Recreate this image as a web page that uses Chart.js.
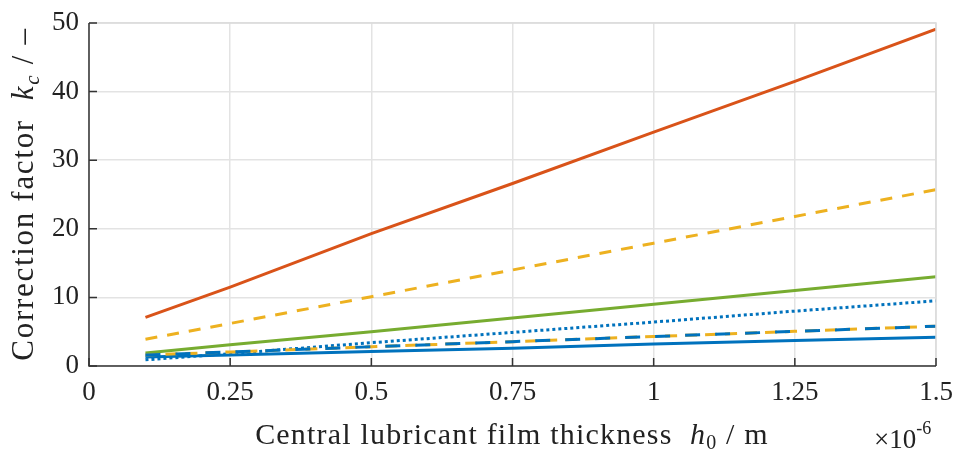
<!DOCTYPE html>
<html><head><meta charset="utf-8">
<script src="https://cdn.jsdelivr.net/npm/chart.js@4/dist/chart.umd.min.js"></script>
<style>html,body{margin:0;padding:0;background:#fff}#wrap{width:955px;height:453px}</style>
</head><body><div id="wrap"><canvas id="c" width="955" height="453"></canvas></div>
<script>
const xValues = [0.1, 0.25, 0.5, 0.75, 1.0, 1.25, 1.5];
const redSolid    = [7.1, 11.5, 19.3, 26.6, 34.1, 41.5, 49.1];
const yellowDash1 = [3.9, 6.2, 10.1, 14.0, 17.9, 21.8, 25.7];
const greenSolid  = [1.9, 3.1, 5.0, 7.0, 9.0, 11.0, 13.0];
const blueDotted  = [0.9, 1.8, 3.4, 4.9, 6.4, 8.0, 9.5];
const yellowDash2 = [1.6, 2.05, 2.8, 3.55, 4.3, 5.05, 5.8];
const blueDashed  = [1.6, 2.05, 2.8, 3.55, 4.3, 5.05, 5.8];
const blueSolid   = [1.3, 1.6, 2.1, 2.6, 3.2, 3.7, 4.2];
const xTicks = [0, 0.25, 0.5, 0.75, 1, 1.25, 1.5];
const yTicks = [0, 10, 20, 30, 40, 50];

const BLUE='#0072BD', RED='#D95319', YEL='#EDB120', GRN='#77AC30';
const pts = a => a.map((v,i)=>({x:xValues[i], y:v}));
const FONT = '"Liberation Serif", "DejaVu Serif", serif';

function ds(data,color,dash,order){
  return {data:pts(data),borderColor:color,borderWidth:3,borderDash:dash,pointRadius:0,fill:false,tension:0,order:order};
}

function drawRich(ctx, parts, x, y, ls){
  ctx.letterSpacing = ls+'px';
  let widths = parts.map(p=>{ctx.font=p[1]; return ctx.measureText(p[0]).width;});
  let total = widths.reduce((a,b)=>a+b,0);
  let cx = x - total/2;
  parts.forEach((p,i)=>{ctx.font=p[1]; ctx.fillText(p[0],cx,y+(p[2]||0)); cx+=widths[i];});
  ctx.letterSpacing='0px';
}

const frame = {
  id:'frame',
  afterDraw(chart){
    const ctx=chart.ctx, a=chart.chartArea, xs=chart.scales.x, ys=chart.scales.y;
    ctx.save();
    ctx.strokeStyle='#dcdcdc'; ctx.lineWidth=1.5;
    ctx.beginPath(); ctx.moveTo(a.left,a.top); ctx.lineTo(a.right,a.top); ctx.lineTo(a.right,a.bottom); ctx.stroke();
    ctx.strokeStyle='#333'; ctx.lineWidth=1.5;
    ctx.beginPath(); ctx.moveTo(a.left,a.top); ctx.lineTo(a.left,a.bottom); ctx.lineTo(a.right,a.bottom); ctx.stroke();
    ctx.beginPath();
    xTicks.forEach(v=>{const p=xs.getPixelForValue(v); ctx.moveTo(p,a.bottom); ctx.lineTo(p,a.bottom-8);});
    yTicks.forEach(v=>{const p=ys.getPixelForValue(v); ctx.moveTo(a.left,p); ctx.lineTo(a.left+8,p);});
    ctx.stroke();
    ctx.fillStyle='#222'; ctx.textBaseline='alphabetic'; ctx.textAlign='left';
    drawRich(ctx,[
      ['Central lubricant film thickness  ','30px '+FONT,0],
      ['h','italic 30px '+FONT,0],
      ['0','20px '+FONT,5],
      [' / m','30px '+FONT,0]
    ],512,444,1.2);
    ctx.font='27px '+FONT; ctx.fillText('×10',874,448);
    const wx=ctx.measureText('×10').width;
    ctx.font='18px '+FONT; ctx.fillText('-6',874+wx,434);
    ctx.save();
    ctx.translate(33,194); ctx.rotate(-Math.PI/2);
    drawRich(ctx,[
      ['Correction factor  ','31px '+FONT,0],
      ['k','italic 31px '+FONT,0],
      ['c','italic 21px '+FONT,6],
      [' / –','31px '+FONT,0]
    ],0,0,1.7);
    ctx.restore();
    ctx.restore();
  }
};

new Chart(document.getElementById('c'),{
  type:'line',
  data:{datasets:[
    ds(blueDashed,BLUE,[15,15],1),
    ds(yellowDash2,YEL,[12,8],2),
    ds(blueDotted,BLUE,[3,3],3),
    ds(greenSolid,GRN,[],4),
    ds(yellowDash1,YEL,[12,10],5),
    ds(redSolid,RED,[],6),
    ds(blueSolid,BLUE,[],7)
  ]},
  options:{
    responsive:false, animation:false,
    layout:{padding:{top:23,right:19,left:0,bottom:0}},
    plugins:{legend:{display:false},tooltip:{enabled:false}},
    scales:{
      x:{type:'linear',min:0,max:1.5,
        afterBuildTicks:s=>{s.ticks=xTicks.map(v=>({value:v}));},
        afterFit:s=>{s.height=87; s.paddingLeft=0; s.paddingRight=0;},
        border:{display:false},
        grid:{color:'#e3e3e3',lineWidth:1.5,drawTicks:false},
        ticks:{color:'#222',font:{family:FONT,size:27},padding:11,maxRotation:0,callback:v=>String(v)}},
      y:{type:'linear',min:0,max:50,
        afterBuildTicks:s=>{s.ticks=yTicks.map(v=>({value:v}));},
        afterFit:s=>{s.width=89; s.paddingTop=0; s.paddingBottom=0;},
        border:{display:false},
        grid:{color:'#e3e3e3',lineWidth:1.5,drawTicks:false},
        ticks:{color:'#222',font:{family:FONT,size:27},padding:10,callback:v=>String(v)}}
    }
  },
  plugins:[frame]
});
</script></body></html>
